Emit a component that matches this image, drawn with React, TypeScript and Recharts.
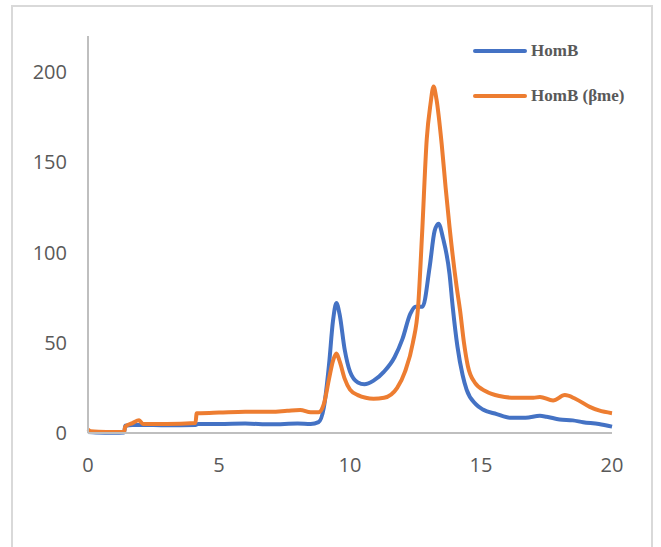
import React from 'react';
import { LineChart, Line, XAxis, YAxis, Legend } from 'recharts';

// HomB trace
const homBX = [0, 0.3, 1.0, 1.38, 1.42, 1.7, 2.0, 3.0, 4.1, 4.2, 5, 6, 7, 8, 8.5, 8.8, 9.0, 9.2, 9.35, 9.48, 9.6, 9.8, 10.0, 10.3, 10.55, 10.9, 11.3, 11.7, 12.0, 12.3, 12.5, 12.77, 13.04, 13.23, 13.38, 13.55, 13.8, 13.92, 14.1, 14.3, 14.45, 14.8, 15.07, 15.6, 16.1, 16.7, 17.25, 17.5, 18.0, 18.5, 18.9, 19.5, 20];
const homBY = [0.5, 0.3, 0.2, 0.3, 4, 4.5, 4.5, 4.3, 4.5, 5, 5, 5.2, 4.8, 5.2, 5, 6, 14, 38, 62, 72, 66, 46, 34, 28, 27, 29, 34, 42, 52, 66, 70, 70, 92, 112, 116, 108, 88, 70, 48, 32, 24, 16, 13, 10.5, 8.5, 8.5, 9.5, 9, 7.5, 7, 6, 5, 3.5];

// HomB (βme) trace
const bmeX = [0, 0.1, 0.4, 1.0, 1.38, 1.42, 1.7, 1.95, 2.1, 3.0, 4.1, 4.15, 4.3, 5, 6, 7, 7.6, 8.1, 8.5, 8.8, 9.0, 9.2, 9.35, 9.48, 9.6, 9.8, 10.0, 10.3, 10.6, 10.9, 11.3, 11.8, 12.1, 12.4, 12.6, 12.75, 12.93, 13.07, 13.19, 13.3, 13.5, 13.65, 13.8, 14.07, 14.2, 14.35, 14.5, 14.76, 15.2, 15.7, 16.3, 17.0, 17.25, 17.75, 18.2, 18.6, 19.15, 19.5, 20];
const bmeY = [2, 1, 0.7, 0.6, 0.7, 3.5, 5.5, 7, 5, 5, 5.5, 11, 11, 11.3, 11.8, 11.8, 12.3, 12.7, 11.5, 11.5, 16, 30, 40, 44, 40, 30, 24, 21, 19.5, 19, 19.5, 25, 34, 50, 70, 110, 163, 182, 192, 185, 160, 136, 114, 81, 68, 50, 37, 28, 23, 20.5, 19.5, 19.5, 20, 18, 21, 19, 14.5, 12.5, 11];

const xTicks = [0, 5, 10, 15, 20];
const yTicks = [0, 50, 100, 150, 200];

const series = [
  { name: 'HomB', color: '#4472C4', data: homBX.map((x, i) => ({ x, y: homBY[i] })) },
  { name: 'HomB (βme)', color: '#ED7D31', data: bmeX.map((x, i) => ({ x, y: bmeY[i] })) },
];

const tickStyle = { fontFamily: '"Open Sans", sans-serif', fontSize: 20, fill: '#595959' };

function LegendBox() {
  return (
    <div style={{ fontFamily: '"Liberation Serif", serif', fontWeight: 'bold', fontSize: 17, color: '#595959' }}>
      {series.map((s) => (
        <div key={s.name} style={{ display: 'flex', alignItems: 'center', height: 45 }}>
          <div style={{ width: 54, height: 4, borderRadius: 2, background: s.color, marginRight: 4 }} />
          <span>{s.name}</span>
        </div>
      ))}
    </div>
  );
}

export default function App() {
  return (
    <div style={{ position: 'absolute', left: 0, top: 0, width: 661, height: 547, overflow: 'hidden', background: '#fff' }}>
      <div
        style={{
          position: 'absolute',
          left: 11,
          top: 5,
          width: 642,
          height: 600,
          border: '2px solid #d9d9d9',
          boxSizing: 'border-box',
        }}
      />
      <div style={{ position: 'absolute', left: 0, top: 0 }}>
        <LineChart width={661} height={547} margin={{ top: 36, right: 49, bottom: 84, left: 28 }}>
          <XAxis
            dataKey="x"
            type="number"
            domain={[0, 20]}
            ticks={xTicks}
            allowDuplicatedCategory={false}
            height={30}
            tickLine={false}
            tickSize={0}
            tickMargin={25}
            axisLine={{ stroke: '#bfbfbf', strokeWidth: 2 }}
            tick={tickStyle}
          />
          <YAxis
            type="number"
            domain={[0, 220]}
            ticks={yTicks}
            width={60}
            tickLine={false}
            tickSize={0}
            tickMargin={21}
            axisLine={{ stroke: '#bfbfbf', strokeWidth: 2 }}
            tick={tickStyle}
          />
          <Legend
            layout="vertical"
            align="center"
            verticalAlign="middle"
            content={() => <LegendBox />}
            wrapperStyle={{ position: 'absolute', left: 473, top: 28, width: 180 }}
          />
          {series.map((s) => (
            <Line
              key={s.name}
              data={s.data}
              dataKey="y"
              name={s.name}
              type="monotone"
              stroke={s.color}
              strokeWidth={4}
              dot={false}
              activeDot={false}
              isAnimationActive={false}
            />
          ))}
        </LineChart>
      </div>
    </div>
  );
}
